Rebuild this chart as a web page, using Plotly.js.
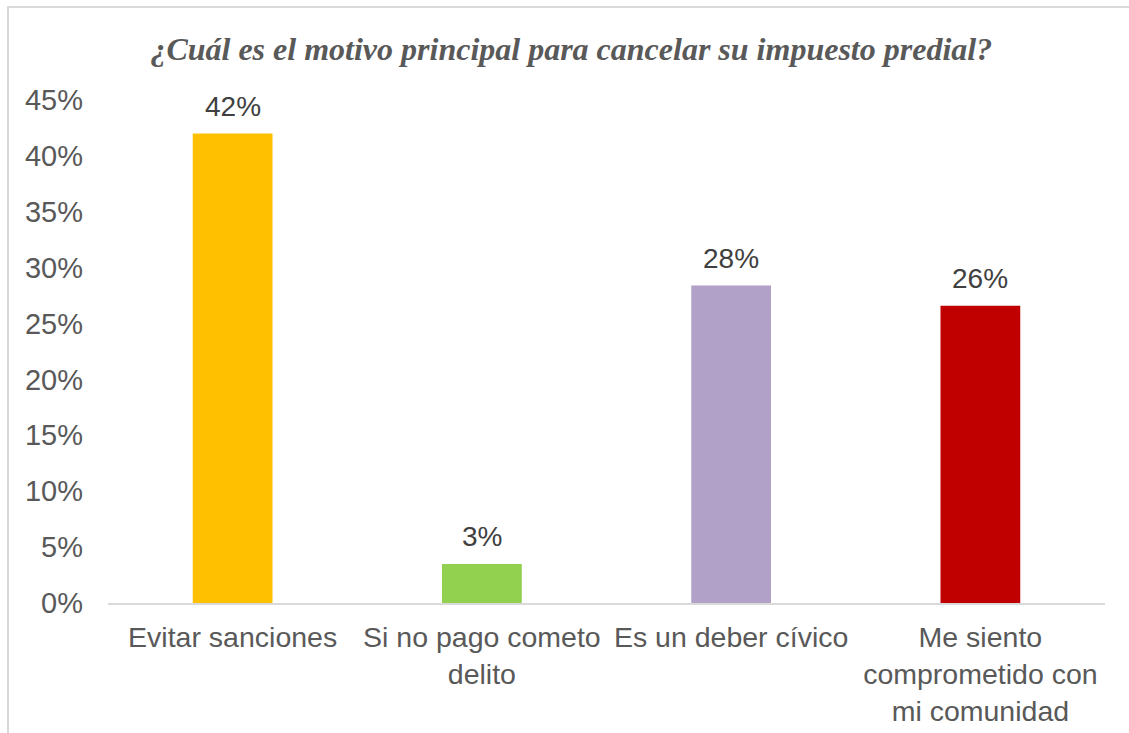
<!DOCTYPE html>
<html>
<head>
<meta charset="utf-8">
<script src="https://cdn.plot.ly/plotly-3.0.1.min.js"></script>
<style>
  html, body { margin: 0; padding: 0; background: #ffffff; overflow: hidden; }
  #wrap { position: relative; width: 1129px; height: 733px; }
  #frame { position: absolute; left: 7px; top: 6px; width: 1200px; height: 800px;
           border-left: 2px solid #d9d9d9; border-top: 2px solid #d9d9d9; pointer-events: none; }
  #chart { position: absolute; left: 0; top: 0; width: 1129px; height: 733px; }
</style>
</head>
<body>
<div id="wrap">
  <div id="chart"></div>
  <div id="frame"></div>
</div>
<script>
const categories = [
  "Evitar sanciones",
  "Si no pago cometo<br>delito",
  "Es un deber cívico",
  "Me siento<br>comprometido con<br>mi comunidad"
];
const values = [0.42, 0.035, 0.284, 0.266];
const valueLabels = ["42%", "3%", "28%", "26%"];
const barColors = ["#ffc000", "#92d050", "#b1a0c7", "#c00000"];
const yTicks = [0, 0.05, 0.10, 0.15, 0.20, 0.25, 0.30, 0.35, 0.40, 0.45];
const yTickLabels = ["0%", "5%", "10%", "15%", "20%", "25%", "30%", "35%", "40%", "45%"];
const titleText = "¿Cuál es el motivo principal para cancelar su impuesto predial?";

const trace = {
  type: "bar",
  x: categories,
  y: values,
  cliponaxis: false,
  marker: { color: barColors },
  hoverinfo: "skip"
};

const labelAnnotations = categories.map((c, i) => ({
  x: c,
  y: values[i],
  xref: "x",
  yref: "y",
  text: valueLabels[i],
  showarrow: false,
  xanchor: "center",
  yanchor: "bottom",
  yshift: 10,
  font: { family: "Liberation Sans, Arial, sans-serif", size: 28, color: "#404040" }
}));

const layout = {
  width: 1129,
  height: 733,
  margin: { l: 108, r: 24, t: 100, b: 130 },
  paper_bgcolor: "#ffffff",
  plot_bgcolor: "#ffffff",
  showlegend: false,
  bargap: 0.68,
  annotations: labelAnnotations,
  title: {
    text: "<b><i>" + titleText + "</i></b>",
    font: { family: "Liberation Serif, Times New Roman, serif", size: 32, color: "#595959" },
    x: 0.506, xanchor: "center",
    y: 0.934, yanchor: "middle"
  },
  font: { family: "Liberation Sans, Arial, sans-serif", size: 28, color: "#595959" },
  xaxis: {
    type: "category",
    showline: true,
    linecolor: "#d9d9d9",
    linewidth: 2,
    ticks: "",
    showgrid: false,
    ticklabelstandoff: 8,
    tickfont: { family: "Liberation Sans, Arial, sans-serif", size: 28.5, color: "#595959" },
    automargin: false
  },
  yaxis: {
    range: [0, 0.45],
    tickvals: yTicks,
    ticktext: yTickLabels,
    showgrid: false,
    zeroline: false,
    showline: false,
    ticks: "",
    ticklabelstandoff: 24,
    tickfont: { family: "Liberation Sans, Arial, sans-serif", size: 29, color: "#595959" },
    automargin: false
  }
};

Plotly.newPlot("chart", [trace], layout, { displayModeBar: false, staticPlot: true });
</script>
</body>
</html>
